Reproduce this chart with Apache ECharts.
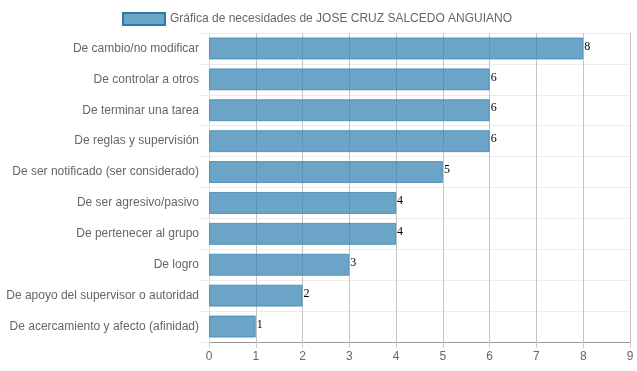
<!DOCTYPE html>
<html><head><meta charset="utf-8">
<script src="https://cdn.jsdelivr.net/npm/echarts@6/dist/echarts.min.js"></script>
<style>html,body{margin:0;padding:0;background:#fff}#c{width:637px;height:371px}</style>
</head><body><div id="c"></div>
<script>
const categories = ["De cambio/no modificar","De controlar a otros","De terminar una tarea","De reglas y supervisión","De ser notificado (ser considerado)","De ser agresivo/pasivo","De pertenecer al grupo","De logro","De apoyo del supervisor o autoridad","De acercamiento y afecto (afinidad)"];
const values = [8,6,6,6,5,4,4,3,2,1];
const seriesName = "Gráfica de necesidades de JOSE CRUZ SALCEDO ANGUIANO";
const xTicks = [0,1,2,3,4,5,6,7,8,9];

const chart = echarts.init(document.getElementById('c'), null, {renderer:'canvas'});
chart.setOption({
  animation:false,
  legend:{top:7,left:117,itemWidth:42,itemHeight:12,itemGap:7,icon:'rect',
    textStyle:{color:'#666',fontSize:12,fontFamily:'Liberation Sans, Arial, sans-serif'},
    data:[{name:seriesName,itemStyle:{color:'#6aa6c6',borderColor:'#2f7ba6',borderWidth:2}}]},
  grid:{left:209,right:7,top:33,bottom:29,containLabel:false},
  xAxis:{type:'value',min:0,max:9,interval:1,
    axisLine:{show:true,lineStyle:{color:'#999'}},
    axisTick:{show:true,length:6,lineStyle:{color:'#ccc'}},
    axisLabel:{color:'#666',fontSize:12,margin:9,fontFamily:'Liberation Sans, Arial, sans-serif',
      formatter:function(v){return xTicks.indexOf(v)>=0?String(v):'';}},
    splitLine:{show:true,lineStyle:{color:'#c4c4c4'}}},
  yAxis:{type:'category',data:categories,inverse:true,
    axisLine:{show:true,lineStyle:{color:'#ddd'}},
    axisTick:{show:true,length:9,lineStyle:{color:'#ececec'}},
    axisLabel:{color:'#666',fontSize:12,margin:10,fontFamily:'Liberation Sans, Arial, sans-serif'},
    splitLine:{show:true,lineStyle:{color:'#ececec'}}},
  series:[{name:seriesName,type:'bar',data:values,barCategoryGap:'29%',
    itemStyle:{color:'rgba(60,135,180,0.76)',borderColor:'rgba(60,135,180,0.8)',borderWidth:1},
    label:{show:true,position:'right',distance:1,color:'#000',fontSize:12,fontFamily:'Liberation Serif, Times New Roman, serif',offset:[0,-2]}}]
});
</script></body></html>
